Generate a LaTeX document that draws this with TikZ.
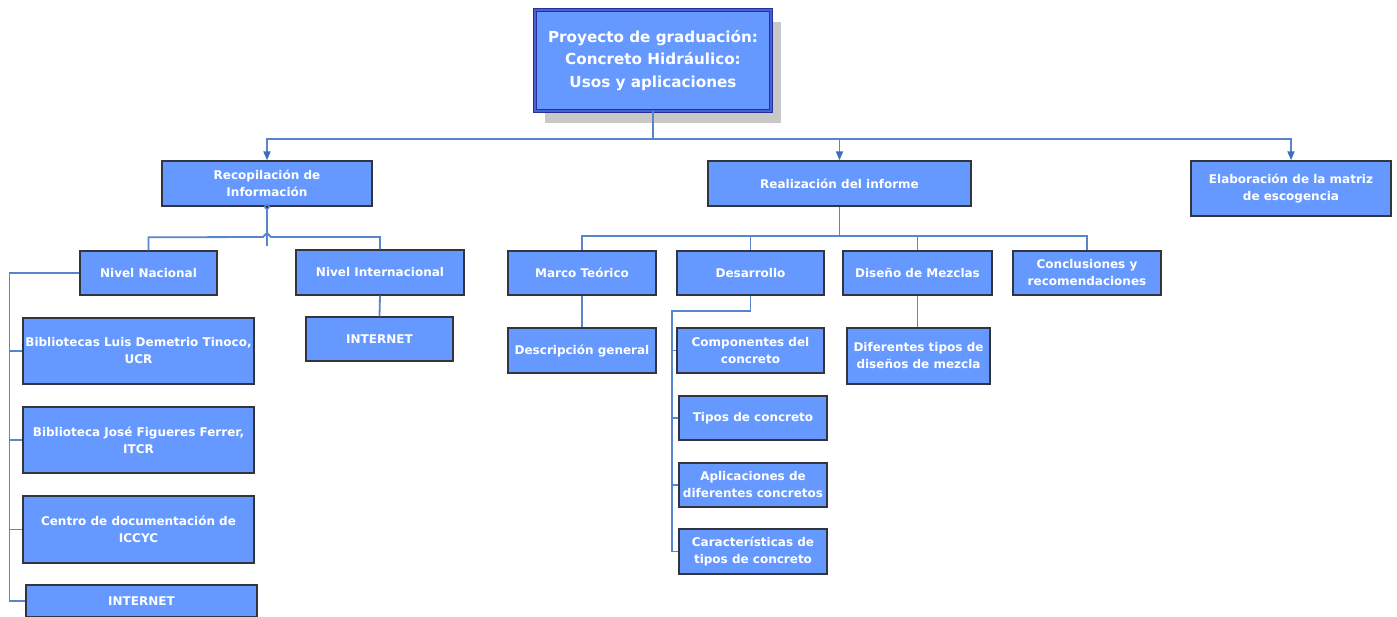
\documentclass[tikz,border=0pt]{standalone}
\usepackage{fontspec}
\setmainfont{DejaVu Sans}
\usetikzlibrary{arrows.meta,shadows}
\definecolor{boxfill}{RGB}{102,153,255}
\definecolor{boxline}{RGB}{50,52,62}
\definecolor{wire}{RGB}{88,134,205}
\definecolor{tipcol}{RGB}{62,108,190}
\definecolor{rootout}{RGB}{38,48,150}
\definecolor{rootin}{RGB}{72,96,215}
\definecolor{shade}{RGB}{200,200,200}
\tikzset{
  box/.style={draw=boxline, fill=boxfill, line width=1.4pt, text=white,
    font=\bfseries\fontsize{12}{17}\selectfont, align=center, inner sep=0pt},
  rootbox/.style={box, draw=rootout, line width=0.8pt, double=rootin, double distance=1.6pt,
    font=\bfseries\fontsize{15.2}{22.5}\selectfont,
    drop shadow={shadow xshift=10pt, shadow yshift=-12pt, fill=shade, opacity=1}},
  wire/.style={draw=wire, line width=1.8pt},
  feed/.style={wire, -{Triangle[width=7pt,length=9pt,color=tipcol]}}
}
\begin{document}
\begin{tikzpicture}[x=1pt,y=-1pt]
\clip (0,0) rectangle (1397,616);
\fill[white] (0,0) rectangle (1397,616);

% top level
\node[rootbox, minimum width=236pt, minimum height=101pt] (root) at (653,60.5)
  {Proyecto de graduación:\\Concreto Hidráulico:\\Usos y aplicaciones};
\node[box, minimum width=210pt, minimum height=45pt] (rec) at (267,183.5) {Recopilación de\\Información};
\node[box, minimum width=263pt, minimum height=45pt] (rea) at (839.5,183.5) {Realización del informe};
\node[box, minimum width=200pt, minimum height=55pt] (ela) at (1291,188.5) {Elaboración de la matriz\\de escogencia};

% gathering of information
\node[box, minimum width=137pt, minimum height=44pt] (nac) at (148.5,273) {Nivel Nacional};
\node[box, minimum width=168pt, minimum height=45pt] (int) at (380,272.5) {Nivel Internacional};
\node[box, minimum width=231pt, minimum height=66pt] (bib1) at (138.5,351) {Bibliotecas Luis Demetrio Tinoco,\\UCR};
\node[box, minimum width=231pt, minimum height=66pt] (bib2) at (138.5,440) {Biblioteca José Figueres Ferrer,\\ITCR};
\node[box, minimum width=231pt, minimum height=67pt] (cen) at (138.5,529.5) {Centro de documentación de\\ICCYC};
\node[box, minimum width=231pt, minimum height=32pt] (inet1) at (141.5,601) {INTERNET};
\node[box, minimum width=147pt, minimum height=44pt] (inet2) at (379.5,339) {INTERNET};

% report
\node[box, minimum width=148pt, minimum height=44pt] (mar) at (582,273) {Marco Teórico};
\node[box, minimum width=147pt, minimum height=44pt] (des) at (750.5,273) {Desarrollo};
\node[box, minimum width=149pt, minimum height=44pt] (dis) at (917.5,273) {Diseño de Mezclas};
\node[box, minimum width=148pt, minimum height=44pt] (con) at (1087,273) {Conclusiones y\\recomendaciones};
\node[box, minimum width=148pt, minimum height=45pt] (desc) at (582,350.5) {Descripción general};
\node[box, minimum width=147pt, minimum height=45pt] (comp) at (750.5,350.5) {Componentes del\\concreto};
\node[box, minimum width=148pt, minimum height=44pt] (tip) at (753,418) {Tipos de concreto};
\node[box, minimum width=148pt, minimum height=44pt] (apl) at (753,485) {Aplicaciones de\\diferentes concretos};
\node[box, minimum width=148pt, minimum height=45pt] (car) at (753,551.5) {Características de\\tipos de concreto};
\node[box, minimum width=143pt, minimum height=56pt] (dif) at (918.5,356) {Diferentes tipos de\\diseños de mezcla};

% root connectors
\coordinate (rbus) at (653,139);
\draw[wire] (root.south) -- (rbus);
\draw[feed] (rbus) -| (rec.north);
\draw[feed] (rbus) -| (rea.north);
\draw[feed] (rbus) -| (ela.north);

% gathering connectors
\draw[wire] (rec.south) -- ++(0,39);
\fill[wire] (rec.south) circle (2pt);
\draw[wire] (nac.north) -- ++(0,-13) -- (263,237) -- (267,233) -- (271,237) -| (int.north);
\coordinate (nl) at (9.5,273);
\draw[wire] (nac.west) -- (nl) |- (inet1.west);
\foreach \b in {bib1,bib2,cen} \draw[wire] (\b.west) -- (\b.west -| nl);
\draw[wire] (int.south) -- (inet2.north);

% report connectors
\draw[wire] (rea.south) -- (839.5,237);
\draw[wire] (mar.north) -- ++(0,-14) -| (con.north);
\draw[wire] (des.north) -- ++(0,-14);
\draw[wire] (dis.north) -- ++(0,-14);
\draw[wire] (mar.south) -- (desc.north);
\draw[wire] (dis.south) -- (dis.south |- dif.north);
\coordinate (dl) at (672,311);
\draw[wire] (des.south) |- (dl) |- (car.west);
\foreach \b in {comp,tip,apl} \draw[wire] (\b.west) -- (\b.west -| dl);
\end{tikzpicture}
\end{document}
